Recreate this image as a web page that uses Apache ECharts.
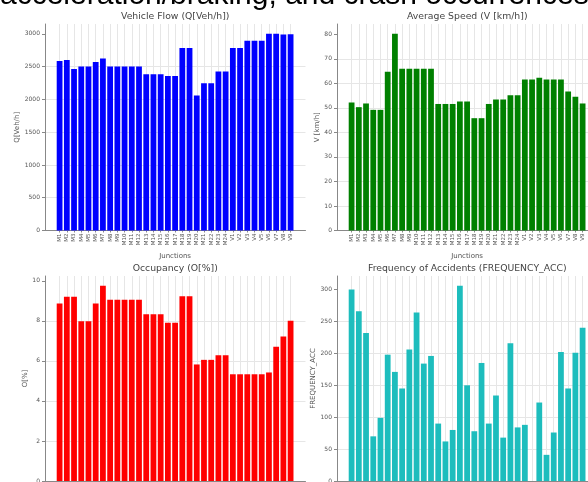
<!DOCTYPE html>
<html>
<head>
<meta charset="utf-8">
<script src="https://cdn.jsdelivr.net/npm/echarts@6/dist/echarts.min.js"></script>
<style>
html,body{margin:0;padding:0;background:#fff;}
#chart{width:588px;height:482px;}
</style>
</head>
<body>
<div id="chart"></div>
<script>
const junctions = ['M1','M2','M3','M4','M5','M6','M7','M8','M9','M10','M11','M12','M13','M14','M15','M16','M17','M18','M19','M20','M21','M22','M23','M24','V1','V2','V3','V4','V5','V6','V7','V8','V9'];
const flow = [2585,2600,2465,2500,2500,2570,2625,2500,2500,2500,2500,2500,2385,2385,2385,2355,2355,2785,2785,2060,2245,2245,2425,2425,2785,2785,2895,2895,2895,3000,3000,2990,2995];
const speed = [52.2,50.3,51.8,49.2,49.2,64.7,80.2,66,66,66,66,66,51.6,51.6,51.6,52.6,52.6,45.8,45.8,51.6,53.4,53.4,55.2,55.2,61.6,61.6,62.3,61.6,61.6,61.6,56.7,54.5,51.8];
const occupancy = [8.86,9.2,9.2,7.98,7.98,8.86,9.75,9.05,9.05,9.05,9.05,9.05,8.33,8.33,8.33,7.9,7.9,9.22,9.22,5.82,6.05,6.05,6.28,6.28,5.33,5.33,5.33,5.33,5.33,5.42,6.71,7.21,8.0];
const accidents = [300,266,232,70,99,198,171,145,206,264,184,196,90,62,80,306,150,78,185,90,134,68,216,84,88,0,123,41,76,202,145,201,240];
const flowTicks = [0,500,1000,1500,2000,2500,3000];
const speedTicks = [0,10,20,30,40,50,60,70,80];
const occTicks = [0,2,4,6,8,10];
const accTicks = [0,50,100,150,200,250,300];

const panels = [
  {data: flow, color: '#0000ff', title: 'Vehicle Flow (Q[Veh/h])', yName: 'Q[Veh/h]', ticks: flowTicks, interval: 500, outerLeft: 45, innerLeft: 59.6, top: 24, height: 206.5, nameGap: 23},
  {data: speed, color: '#008000', title: 'Average Speed (V [km/h])', yName: 'V [km/h]', ticks: speedTicks, interval: 10, outerLeft: 337, innerLeft: 351.6, top: 24, height: 206.5, nameGap: 14},
  {data: occupancy, color: '#ff0000', title: 'Occupancy (O[%])', yName: 'O[%]', ticks: occTicks, interval: 2, outerLeft: 45, innerLeft: 59.6, top: 276, height: 205, nameGap: 12},
  {data: accidents, color: '#1dbdbd', title: 'Frequency of Accidents (FREQUENCY_ACC)', yName: 'FREQUENCY_ACC', ticks: accTicks, interval: 50, outerLeft: 337, innerLeft: 351.6, top: 276, height: 205, nameGap: 18}
];

const OUTER_W = 260.5, INNER_W = 231;
const grid = [], xAxis = [], yAxis = [], series = [], graphic = [];
const labelColor = '#555', spineColor = '#888', gridColor = '#e6e6e6';

graphic.push({type: 'text', x: 0, y: -4, style: {text: 'acceleration/braking, and crash occurrences', fontSize: 30, fontFamily: 'Liberation Sans, Arial, sans-serif', fill: '#000', textAlign: 'left', textVerticalAlign: 'middle'}});

panels.forEach((p, i) => {
  const ymax = Math.max.apply(null, p.data) * 1.05;
  grid.push({left: p.outerLeft, top: p.top, width: OUTER_W, height: p.height, containLabel: false, outerBoundsMode: 'none'});
  grid.push({left: p.innerLeft, top: p.top, width: INNER_W, height: p.height, containLabel: false, outerBoundsMode: 'none'});
  xAxis.push({type: 'value', gridIndex: 2*i, min: 0, max: 1, axisLine: {show: true, lineStyle: {color: spineColor, width: 1}}, axisTick: {show: false}, axisLabel: {show: false}, splitLine: {show: false}});
  yAxis.push({type: 'value', gridIndex: 2*i, min: 0, max: ymax, interval: p.interval,
    axisLine: {show: true, lineStyle: {color: spineColor, width: 1}},
    axisTick: {show: true, length: 3, lineStyle: {color: spineColor}, customValues: p.ticks},
    axisLabel: {fontSize: 6, color: labelColor, margin: 5, fontFamily: 'DejaVu Sans', customValues: p.ticks, formatter: v => String(v)},
    splitLine: {show: true, showMaxLine: false, lineStyle: {color: gridColor, width: 1}},
    name: p.yName, nameLocation: 'middle', nameGap: p.nameGap, nameTextStyle: {fontSize: 7, color: labelColor, fontFamily: 'DejaVu Sans'}});
  xAxis.push({type: 'category', gridIndex: 2*i+1, data: junctions, boundaryGap: false,
    axisLine: {show: false}, axisTick: {show: true, length: 2, interval: 0, lineStyle: {color: spineColor}},
    axisLabel: {rotate: 90, interval: 0, fontSize: 5.5, color: labelColor, margin: 3, fontFamily: 'DejaVu Sans'},
    splitLine: {show: true, interval: 0, lineStyle: {color: gridColor, width: 1}},
    name: 'Junctions', nameLocation: 'middle', nameGap: 22, nameTextStyle: {fontSize: 7, color: labelColor, fontFamily: 'DejaVu Sans'}});
  yAxis.push({type: 'value', gridIndex: 2*i+1, min: 0, max: ymax, show: false, splitLine: {show: false}});
  series.push({type: 'bar', xAxisIndex: 2*i+1, yAxisIndex: 2*i+1, data: p.data, barWidth: '80%', clip: false, itemStyle: {color: p.color}, silent: true, animation: false});
  graphic.push({type: 'text', x: p.outerLeft + OUTER_W/2, y: p.top - 7, style: {text: p.title, fontSize: 9.3, fontFamily: 'DejaVu Sans', fill: '#444', textAlign: 'center', textVerticalAlign: 'middle'}});
});

const chart = echarts.init(document.getElementById('chart'), null, {renderer: 'canvas'});
chart.setOption({animation: false, backgroundColor: '#fff', grid, xAxis, yAxis, series, graphic});
</script>
</body>
</html>
